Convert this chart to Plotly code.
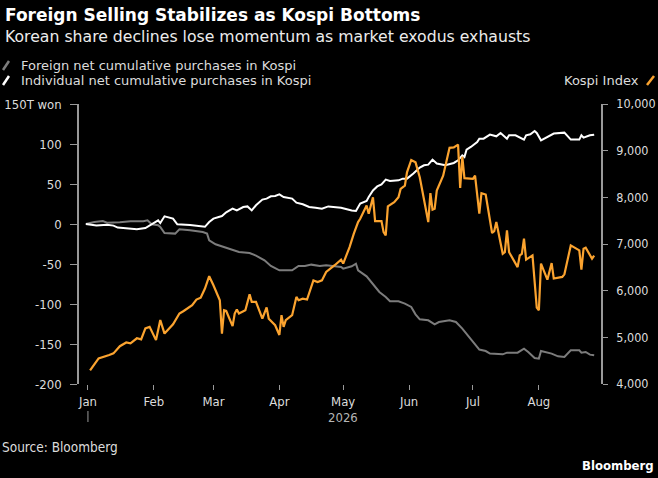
import plotly.graph_objects as go

# Kospi index (right axis)
kospi_dates = [
    "2026-01-02", "2026-01-06", "2026-01-11", "2026-01-13", "2026-01-16", "2026-01-19",
    "2026-01-21", "2026-01-24", "2026-01-26", "2026-01-28", "2026-01-30", "2026-02-02",
    "2026-02-04", "2026-02-06", "2026-02-10", "2026-02-11", "2026-02-13", "2026-02-15",
    "2026-02-19", "2026-02-21", "2026-02-23", "2026-02-25", "2026-02-27", "2026-03-01",
    "2026-03-04", "2026-03-05", "2026-03-06", "2026-03-07", "2026-03-10", "2026-03-11",
    "2026-03-12", "2026-03-13", "2026-03-16", "2026-03-18", "2026-03-19", "2026-03-21",
    "2026-03-24", "2026-03-26", "2026-03-27", "2026-03-30", "2026-04-01", "2026-04-02",
    "2026-04-03", "2026-04-04", "2026-04-07", "2026-04-09", "2026-04-10", "2026-04-12",
    "2026-04-14", "2026-04-17", "2026-04-19", "2026-04-21", "2026-04-23", "2026-04-27",
    "2026-04-30", "2026-05-01", "2026-05-04", "2026-05-06", "2026-05-08", "2026-05-09",
    "2026-05-12", "2026-05-13", "2026-05-15", "2026-05-16", "2026-05-19", "2026-05-20",
    "2026-05-21", "2026-05-22", "2026-05-25", "2026-05-27", "2026-05-28", "2026-05-30",
    "2026-05-31", "2026-06-02", "2026-06-04", "2026-06-06", "2026-06-10", "2026-06-11",
    "2026-06-12", "2026-06-13", "2026-06-14", "2026-06-17", "2026-06-20", "2026-06-22",
    "2026-06-24", "2026-06-25", "2026-06-26", "2026-06-27", "2026-07-01", "2026-07-02",
    "2026-07-04", "2026-07-05", "2026-07-07", "2026-07-10", "2026-07-11", "2026-07-12",
    "2026-07-15", "2026-07-16", "2026-07-17", "2026-07-18", "2026-07-22", "2026-07-23",
    "2026-07-24", "2026-07-25", "2026-07-26", "2026-07-29", "2026-07-31", "2026-08-01",
    "2026-08-02", "2026-08-05", "2026-08-07", "2026-08-08", "2026-08-12", "2026-08-13",
    "2026-08-16", "2026-08-20", "2026-08-21", "2026-08-22", "2026-08-23", "2026-08-26",
    "2026-08-27",
]
kospi = [
    4290, 4550, 4620, 4656, 4810, 4890,
    4870, 4980, 4955, 5190, 5225, 4940,
    5370, 5080, 5280, 5350, 5510, 5565,
    5690, 5810, 5850, 6045, 6310, 6115,
    5795, 5080, 5580, 5565, 5240, 5510,
    5595, 5510, 5580, 5920, 5760, 5760,
    5400, 5640, 5400, 5260, 5050, 5475,
    5225, 5370, 5475, 5865, 5795, 5830,
    5810, 6220, 6185, 6220, 6400, 6545,
    6665, 6580, 6935, 7220, 7470, 7540,
    7825, 7650, 8000, 7490, 7490, 7255,
    7185, 7805, 7895, 8000, 8180, 8250,
    8535, 8800, 8750, 8430, 7470, 8090,
    7735, 7755, 8145, 8465, 9060, 9070,
    9130, 8200, 8870, 8410, 8395, 8465,
    7650, 8090, 8060, 7235, 7275, 7470,
    6790, 6825, 7290, 6825, 6505, 6755,
    6790, 7115, 6665, 6755, 5640, 5580,
    6580, 6235, 6590, 6260, 6295, 6350,
    6970, 6865, 6450, 6900, 6920, 6685,
    6750,
]

# Individual net cumulative purchases, trillion won (left axis)
indiv_dates = [
    "2025-12-31", "2026-01-05", "2026-01-10", "2026-01-13", "2026-01-15", "2026-01-19",
    "2026-01-24", "2026-01-28", "2026-01-31", "2026-02-03", "2026-02-04", "2026-02-06",
    "2026-02-10", "2026-02-12", "2026-02-18", "2026-02-25", "2026-02-27", "2026-03-01",
    "2026-03-05", "2026-03-07", "2026-03-10", "2026-03-12", "2026-03-15", "2026-03-17",
    "2026-03-19", "2026-03-21", "2026-03-24", "2026-03-26", "2026-03-28", "2026-03-30",
    "2026-04-01", "2026-04-03", "2026-04-07", "2026-04-09", "2026-04-12", "2026-04-15",
    "2026-04-18", "2026-04-21", "2026-04-24", "2026-04-27", "2026-04-30", "2026-05-05",
    "2026-05-07", "2026-05-09", "2026-05-12", "2026-05-13", "2026-05-15", "2026-05-17",
    "2026-05-19", "2026-05-21", "2026-05-23", "2026-05-27", "2026-05-29", "2026-05-31",
    "2026-06-03", "2026-06-06", "2026-06-08", "2026-06-10", "2026-06-12", "2026-06-14",
    "2026-06-18", "2026-06-22", "2026-06-24", "2026-06-26", "2026-06-27", "2026-06-28",
    "2026-06-30", "2026-07-03", "2026-07-04", "2026-07-06", "2026-07-09", "2026-07-12",
    "2026-07-14", "2026-07-17", "2026-07-18", "2026-07-21", "2026-07-25", "2026-07-26",
    "2026-07-28", "2026-07-30", "2026-07-31", "2026-08-02", "2026-08-05", "2026-08-06",
    "2026-08-08", "2026-08-13", "2026-08-16", "2026-08-20", "2026-08-21", "2026-08-22",
    "2026-08-25", "2026-08-27",
]
individual = [
    0, -2, -1, -2, -4.5, -5.4,
    -6.6, -5, -0.4, 4.6, 1.2, 9.6,
    6.7, -0.4, -1.2, -3.5, 2.5, 6.7,
    10, 14.6, 19.2, 17, 21.2, 22,
    17, 23.4, 30.5, 31.7, 34.6, 35,
    37, 33.7, 31.7, 26.7, 24.6, 21.2,
    20.4, 19.2, 22, 21.2, 20.4, 17,
    16.3, 25.5, 28.8, 33.8, 42, 47,
    49.6, 55.5, 53.8, 54.6, 56.7, 56.7,
    63, 70.5, 73.4, 74.2, 80.5, 75.5,
    73.4, 76.3, 79.6, 85.9, 83.8, 93,
    96.3, 102.5, 106.7, 106.7, 111.7, 109.6,
    113.8, 106.7, 110.9, 110.9, 105.5, 110.9,
    112.1, 116.3, 113.8, 104.6, 108.8, 109.6,
    113, 114.2, 105.5, 105.5, 110.9, 108,
    110.9, 111.7,
]

# Foreign net cumulative purchases, trillion won (left axis)
foreign_dates = [
    "2025-12-31", "2026-01-04", "2026-01-08", "2026-01-10", "2026-01-16", "2026-01-21",
    "2026-01-27", "2026-01-29", "2026-01-31", "2026-02-03", "2026-02-04", "2026-02-06",
    "2026-02-11", "2026-02-13", "2026-02-18", "2026-02-24", "2026-02-26", "2026-02-27",
    "2026-03-02", "2026-03-06", "2026-03-10", "2026-03-13", "2026-03-18", "2026-03-21",
    "2026-03-25", "2026-03-28", "2026-04-01", "2026-04-07", "2026-04-10", "2026-04-13",
    "2026-04-16", "2026-04-20", "2026-04-23", "2026-04-26", "2026-04-30", "2026-05-01",
    "2026-05-05", "2026-05-07", "2026-05-08", "2026-05-12", "2026-05-15", "2026-05-18",
    "2026-05-21", "2026-05-23", "2026-05-27", "2026-05-30", "2026-06-02", "2026-06-04",
    "2026-06-06", "2026-06-10", "2026-06-13", "2026-06-15", "2026-06-20", "2026-06-23",
    "2026-06-26", "2026-06-28", "2026-07-01", "2026-07-04", "2026-07-07", "2026-07-09",
    "2026-07-15", "2026-07-17", "2026-07-22", "2026-07-25", "2026-07-27", "2026-07-30",
    "2026-08-01", "2026-08-02", "2026-08-07", "2026-08-10", "2026-08-13", "2026-08-16",
    "2026-08-20", "2026-08-21", "2026-08-23", "2026-08-25", "2026-08-27",
]
foreign = [
    0, 2.5, 3.8, 1.7, 2.1, 3.4,
    3.4, 4.6, -0.4, -1.6, -3.7, -11.2,
    -12, -6.6, -7.9, -10, -12, -20.4,
    -25.4, -28.8, -32, -35, -36.2, -39.5,
    -45.4, -52.5, -57.9, -57.9, -52.5, -52.5,
    -50.8, -52.5, -51.6, -52.9, -53.7, -55.8,
    -52.9, -49.6, -57.9, -65.4, -75.4, -85,
    -91.2, -96.6, -96.6, -99.5, -103.7, -112.9,
    -119.1, -120.4, -125.4, -122.5, -120.4, -122.5,
    -130.8, -137, -147.5, -157, -158.8, -162,
    -162.9, -160.8, -160.8, -155.8, -160, -167.5,
    -168.3, -158.8, -162, -165.4, -166.2, -157.9,
    -157.9, -160.8, -160, -163.3, -164.1,
]

month_ticks = ["2026-01-01", "2026-02-01", "2026-03-01", "2026-04-01",
               "2026-05-01", "2026-06-01", "2026-07-01", "2026-08-01"]
month_labels = ["Jan", "Feb", "Mar", "Apr", "May", "Jun", "Jul", "Aug"]
left_ticks = [-200, -150, -100, -50, 0, 50, 100, 150]
left_labels = ["-200", "-150", "-100", "-50", "0", "50", "100", "150T won"]
right_ticks = [4000, 5000, 6000, 7000, 8000, 9000, 10000]

ORANGE = "#fba32f"
GREY = "#7c7c7c"
WHITE = "#ffffff"
AXIS = "#9a9a9a"
TEXT = "#dcdcdc"
FONT = "DejaVu Sans"
NARROW = "DejaVu Sans Condensed"

W, H = 658, 478
L, R, T, B = 79, 57, 104, 94


def px(x):
    return (x - L) / (W - L - R)


def py(y):
    return (H - B - y) / (H - T - B)


fig = go.Figure()
fig.add_trace(go.Scatter(x=kospi_dates, y=kospi, yaxis="y2", mode="lines",
                         line=dict(color=ORANGE, width=2.2), name="Kospi Index"))
fig.add_trace(go.Scatter(x=foreign_dates, y=foreign, mode="lines",
                         line=dict(color=GREY, width=2),
                         name="Foreign net cumulative purchases in Kospi"))
fig.add_trace(go.Scatter(x=indiv_dates, y=individual, mode="lines",
                         line=dict(color=WHITE, width=2),
                         name="Individual net cumulative purchases in Kospi"))

annotations = [
    dict(text="<b>Foreign Selling Stabilizes as Kospi Bottoms</b>", x=px(3), y=py(15),
         font=dict(size=17, color=WHITE)),
    dict(text="Korean share declines lose momentum as market exodus exhausts", x=px(3), y=py(37),
         font=dict(size=15.7, color="#ececec")),
    dict(text="Foreign net cumulative purchases in Kospi", x=px(19), y=py(65),
         font=dict(size=13, color=TEXT)),
    dict(text="Individual net cumulative purchases in Kospi", x=px(19), y=py(80),
         font=dict(size=13, color=TEXT)),
    dict(text="Kospi Index", x=px(641), y=py(80), xanchor="right",
         font=dict(size=13, color=TEXT)),
    dict(text="Source: Bloomberg", x=px(0), y=py(447),
         font=dict(family=NARROW, size=13.5, color=TEXT)),
    dict(text="<b>Bloomberg</b>", x=px(656), y=py(465), xanchor="right",
         font=dict(family=NARROW, size=13, color=WHITE)),
]
for a in annotations:
    a.setdefault("xanchor", "left")
    a.update(xref="paper", yref="paper", yanchor="middle", showarrow=False)
annotations.append(dict(text="2026", x="2026-05-01", y=py(417), xref="x", yref="paper",
                        xanchor="center", yanchor="middle", showarrow=False,
                        font=dict(family=NARROW, size=13, color="#b5b5b5")))

shapes = [
    dict(type="line", xref="paper", yref="paper", x0=px(3), y0=py(70), x1=px(9), y1=py(61),
         line=dict(color=GREY, width=2.5)),
    dict(type="line", xref="paper", yref="paper", x0=px(3), y0=py(85), x1=px(9), y1=py(76),
         line=dict(color=WHITE, width=2.5)),
    dict(type="line", xref="paper", yref="paper", x0=px(647), y0=py(85), x1=px(654), y1=py(76),
         line=dict(color=ORANGE, width=2.5)),
    dict(type="line", xref="x", yref="paper", x0="2026-01-01", x1="2026-01-01",
         y0=py(411), y1=py(422), line=dict(color=AXIS, width=1)),
]

fig.update_layout(
    width=W, height=H,
    margin=dict(l=L, r=R, t=T, b=B),
    paper_bgcolor="black", plot_bgcolor="black",
    font=dict(family=FONT, size=13, color=TEXT),
    showlegend=False,
    annotations=annotations,
    shapes=shapes,
    xaxis=dict(type="date", range=["2025-12-27 19:00", "2026-08-30 05:00"],
               tickvals=month_ticks, ticktext=month_labels,
               ticks="outside", ticklen=5, tickcolor=AXIS, tickwidth=1,
               showline=False, showgrid=False, zeroline=False, automargin=False,
               tickfont=dict(family=NARROW, size=13, color=TEXT)),
    yaxis=dict(range=[-200, 150], tickvals=left_ticks, ticktext=left_labels,
               ticks="outside", ticklen=7, tickcolor=AXIS, tickwidth=1,
               showline=True, linecolor=AXIS, linewidth=1.5,
               showgrid=False, zeroline=False, ticklabelstandoff=6, automargin=False,
               tickfont=dict(family=NARROW, size=13, color=TEXT)),
    yaxis2=dict(range=[4000, 10000], tickvals=right_ticks, tickformat=",",
                overlaying="y", side="right",
                ticks="outside", ticklen=5, tickcolor=AXIS, tickwidth=1,
                showline=True, linecolor=AXIS, linewidth=1.5,
                showgrid=False, zeroline=False, ticklabelstandoff=6, automargin=False,
                tickfont=dict(family=NARROW, size=12.5, color=TEXT)),
)

# the page body keeps its default 8px margin otherwise
fig.write_html("out.html", config={"displayModeBar": False},
               post_script="document.body.style.margin = '0px';")
